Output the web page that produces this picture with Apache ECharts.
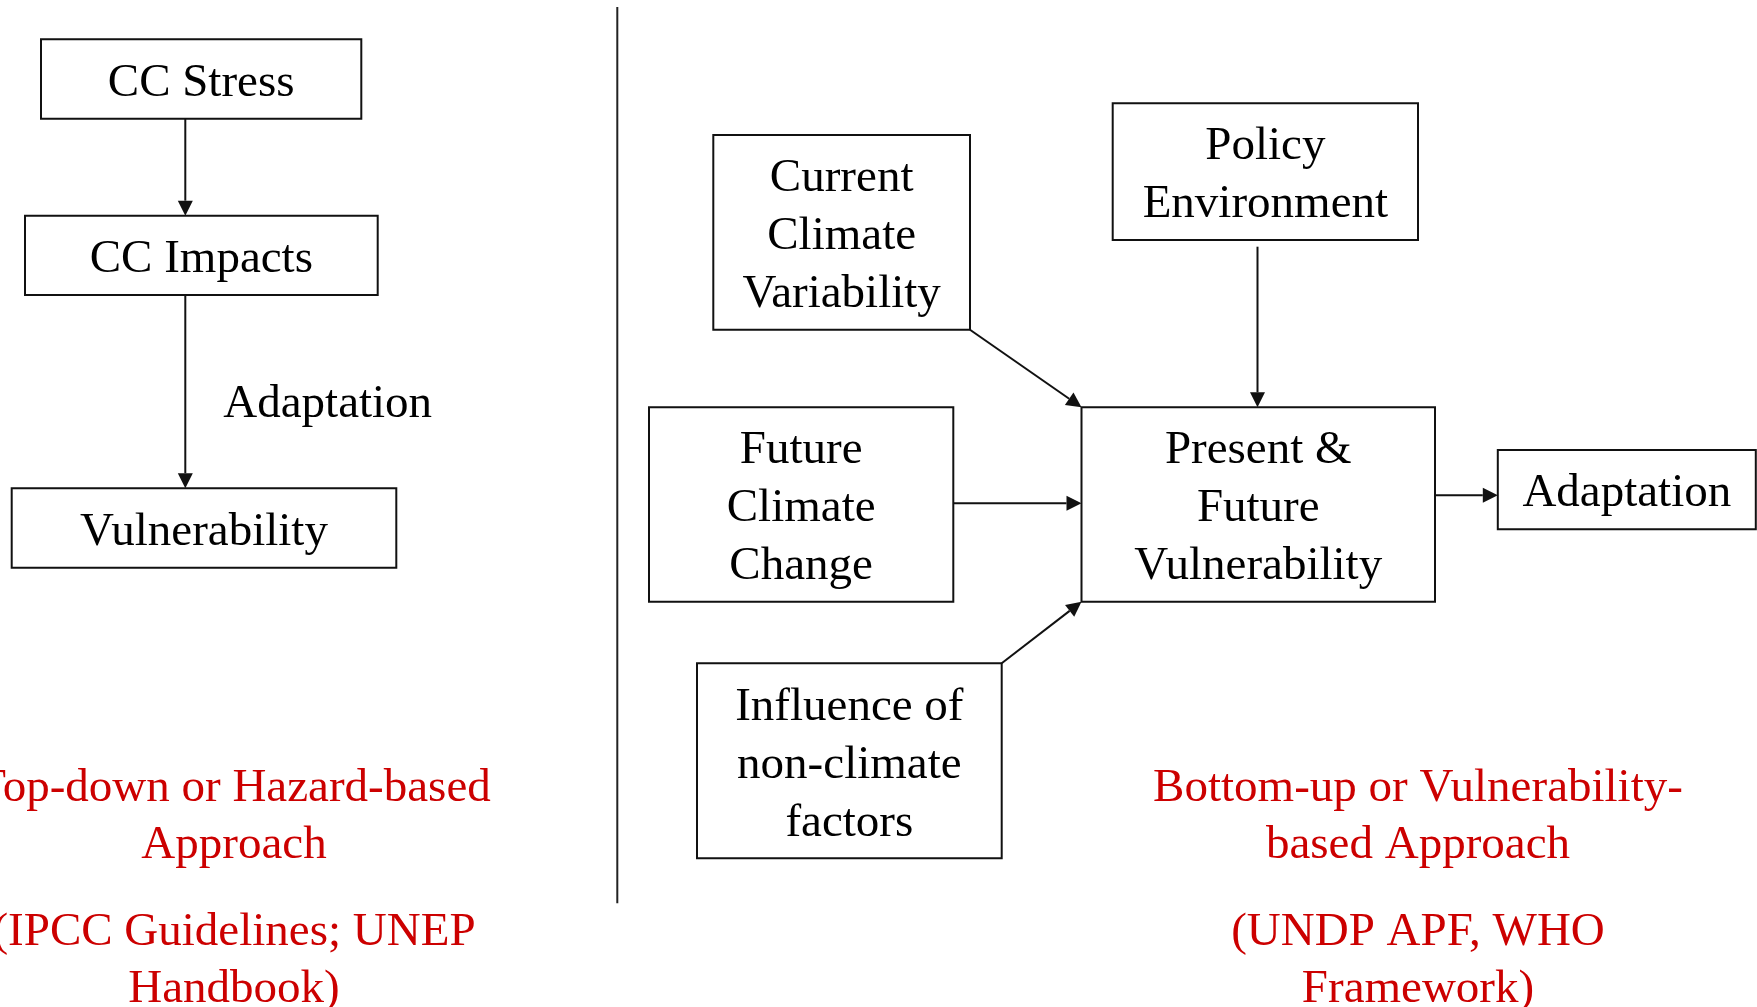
<!DOCTYPE html>
<html><head><meta charset="utf-8">
<script src="https://cdn.jsdelivr.net/npm/echarts@6/dist/echarts.min.js"></script>
<style>html,body{margin:0;padding:0;background:#fff;overflow:hidden}#c{width:1757px;height:1007px}</style>
</head><body><div id="c"></div>
<script>
// ---- content ----
const boxLabels = [
  'CC Stress', 'CC Impacts', 'Vulnerability',
  'Current\nClimate\nVariability', 'Policy\nEnvironment', 'Future\nClimate\nChange',
  'Present &\nFuture\nVulnerability', 'Adaptation', 'Influence of\nnon-climate\nfactors'
];
const freeLabels = ['Adaptation'];
const leftCaption = ['Top-down or Hazard-based', 'Approach', '(IPCC Guidelines; UNEP', 'Handbook)'];
const rightCaption = ['Bottom-up or Vulnerability-', 'based Approach', '(UNDP APF, WHO', 'Framework)'];

// ---- layout (diagram coordinates, 1 unit = 1 px) ----
const boxRects = [
  [41, 39.3, 361.3, 118.7], [25, 215.7, 377.7, 295], [11.7, 488.3, 396.3, 567.7],
  [713.3, 135, 970, 329.7], [1112.7, 103.3, 1418, 240], [649, 407.3, 953.3, 601.7],
  [1081.5, 407.3, 1435, 601.7], [1497.8, 450, 1755.8, 529.3], [697, 663.3, 1001.7, 858.3]
];
const arrowSegs = [
  [185.3, 118.7, 185.3, 215.7], [185.3, 295, 185.3, 488.3],
  [970, 329.7, 1081.5, 407.3], [1257.5, 246.7, 1257.5, 407.3],
  [953.3, 503.3, 1081.5, 503.3], [1001.7, 663.3, 1081.5, 601.7],
  [1435, 495.3, 1497.8, 495.3]
];
const freeLabelPos = [[327.7, 405]];
const dividerSeg = [[617.3, 7, 617.3, 903.3]];
const captionCenters = [234, 1418];
const captionBaselines = [800, 856.7, 944, 1001];

const FONT = '47px "Liberation Serif", "Times New Roman", serif';
const RED = '#cc0000';
const TEXT_SHIFT = 4.5;

const chart = echarts.init(document.getElementById('c'), null, {renderer: 'canvas'});

function boxItem(params, api) {
  const p0 = api.coord([api.value(0), api.value(1)]);
  const p1 = api.coord([api.value(2), api.value(3)]);
  return {
    type: 'group',
    children: [
      {type: 'rect', shape: {x: p0[0], y: p0[1], width: p1[0] - p0[0], height: p1[1] - p0[1]},
       style: {fill: '#fff', stroke: '#111', lineWidth: 2}},
      {type: 'text', style: {text: boxLabels[params.dataIndex], x: (p0[0] + p1[0]) / 2, y: (p0[1] + p1[1]) / 2 + TEXT_SHIFT,
       align: 'center', verticalAlign: 'middle', font: FONT, lineHeight: 58, fill: '#000'}}
    ]
  };
}

function arrowItem(params, api) {
  const a = api.coord([api.value(0), api.value(1)]);
  const b = api.coord([api.value(2), api.value(3)]);
  const dx = b[0] - a[0], dy = b[1] - a[1];
  const len = Math.sqrt(dx * dx + dy * dy);
  const ux = dx / len, uy = dy / len;
  const L = 15, W = 7.5;
  const bx = b[0] - ux * L, by = b[1] - uy * L;
  return {
    type: 'group',
    children: [
      {type: 'line', shape: {x1: a[0], y1: a[1], x2: bx, y2: by}, style: {stroke: '#111', lineWidth: 2}},
      {type: 'polygon', shape: {points: [[b[0], b[1]], [bx - uy * W, by + ux * W], [bx + uy * W, by - ux * W]]},
       style: {fill: '#111'}}
    ]
  };
}

function lineItem(params, api) {
  const a = api.coord([api.value(0), api.value(1)]);
  const b = api.coord([api.value(2), api.value(3)]);
  return {type: 'line', shape: {x1: a[0], y1: a[1], x2: b[0], y2: b[1]}, style: {stroke: '#222', lineWidth: 2}};
}

function freeLabelItem(params, api) {
  const p = api.coord([api.value(0), api.value(1)]);
  return {type: 'text', style: {text: freeLabels[params.dataIndex], x: p[0], y: p[1],
    align: 'center', verticalAlign: 'middle', font: FONT, fill: '#000'}};
}

const captionData = [];
[leftCaption, rightCaption].forEach((cap, ci) => {
  cap.forEach((t, li) => captionData.push([captionCenters[ci], captionBaselines[li] - 16 + TEXT_SHIFT, t]));
});
function captionItem(params, api) {
  const p = api.coord([api.value(0), api.value(1)]);
  return {type: 'text', style: {text: captionData[params.dataIndex][2], x: p[0], y: p[1],
    align: 'center', verticalAlign: 'middle', font: FONT, fill: RED}};
}

const ax = {show: false};
chart.setOption({
  animation: false,
  backgroundColor: '#fff',
  grid: {left: 0, right: 0, top: 0, bottom: 0},
  xAxis: {type: 'value', min: 0, max: 1757, ...ax},
  yAxis: {type: 'value', min: 0, max: 1007, inverse: true, ...ax},
  series: [
    {type: 'custom', clip: false, renderItem: lineItem, data: dividerSeg, encode: {x: [0, 2], y: [1, 3]}},
    {type: 'custom', clip: false, renderItem: arrowItem, data: arrowSegs, encode: {x: [0, 2], y: [1, 3]}},
    {type: 'custom', clip: false, renderItem: boxItem, data: boxRects, encode: {x: [0, 2], y: [1, 3]}},
    {type: 'custom', clip: false, renderItem: freeLabelItem, data: freeLabelPos, encode: {x: 0, y: 1}},
    {type: 'custom', clip: false, renderItem: captionItem, data: captionData.map(d => [d[0], d[1]]), encode: {x: 0, y: 1}}
  ]
});
</script></body></html>
